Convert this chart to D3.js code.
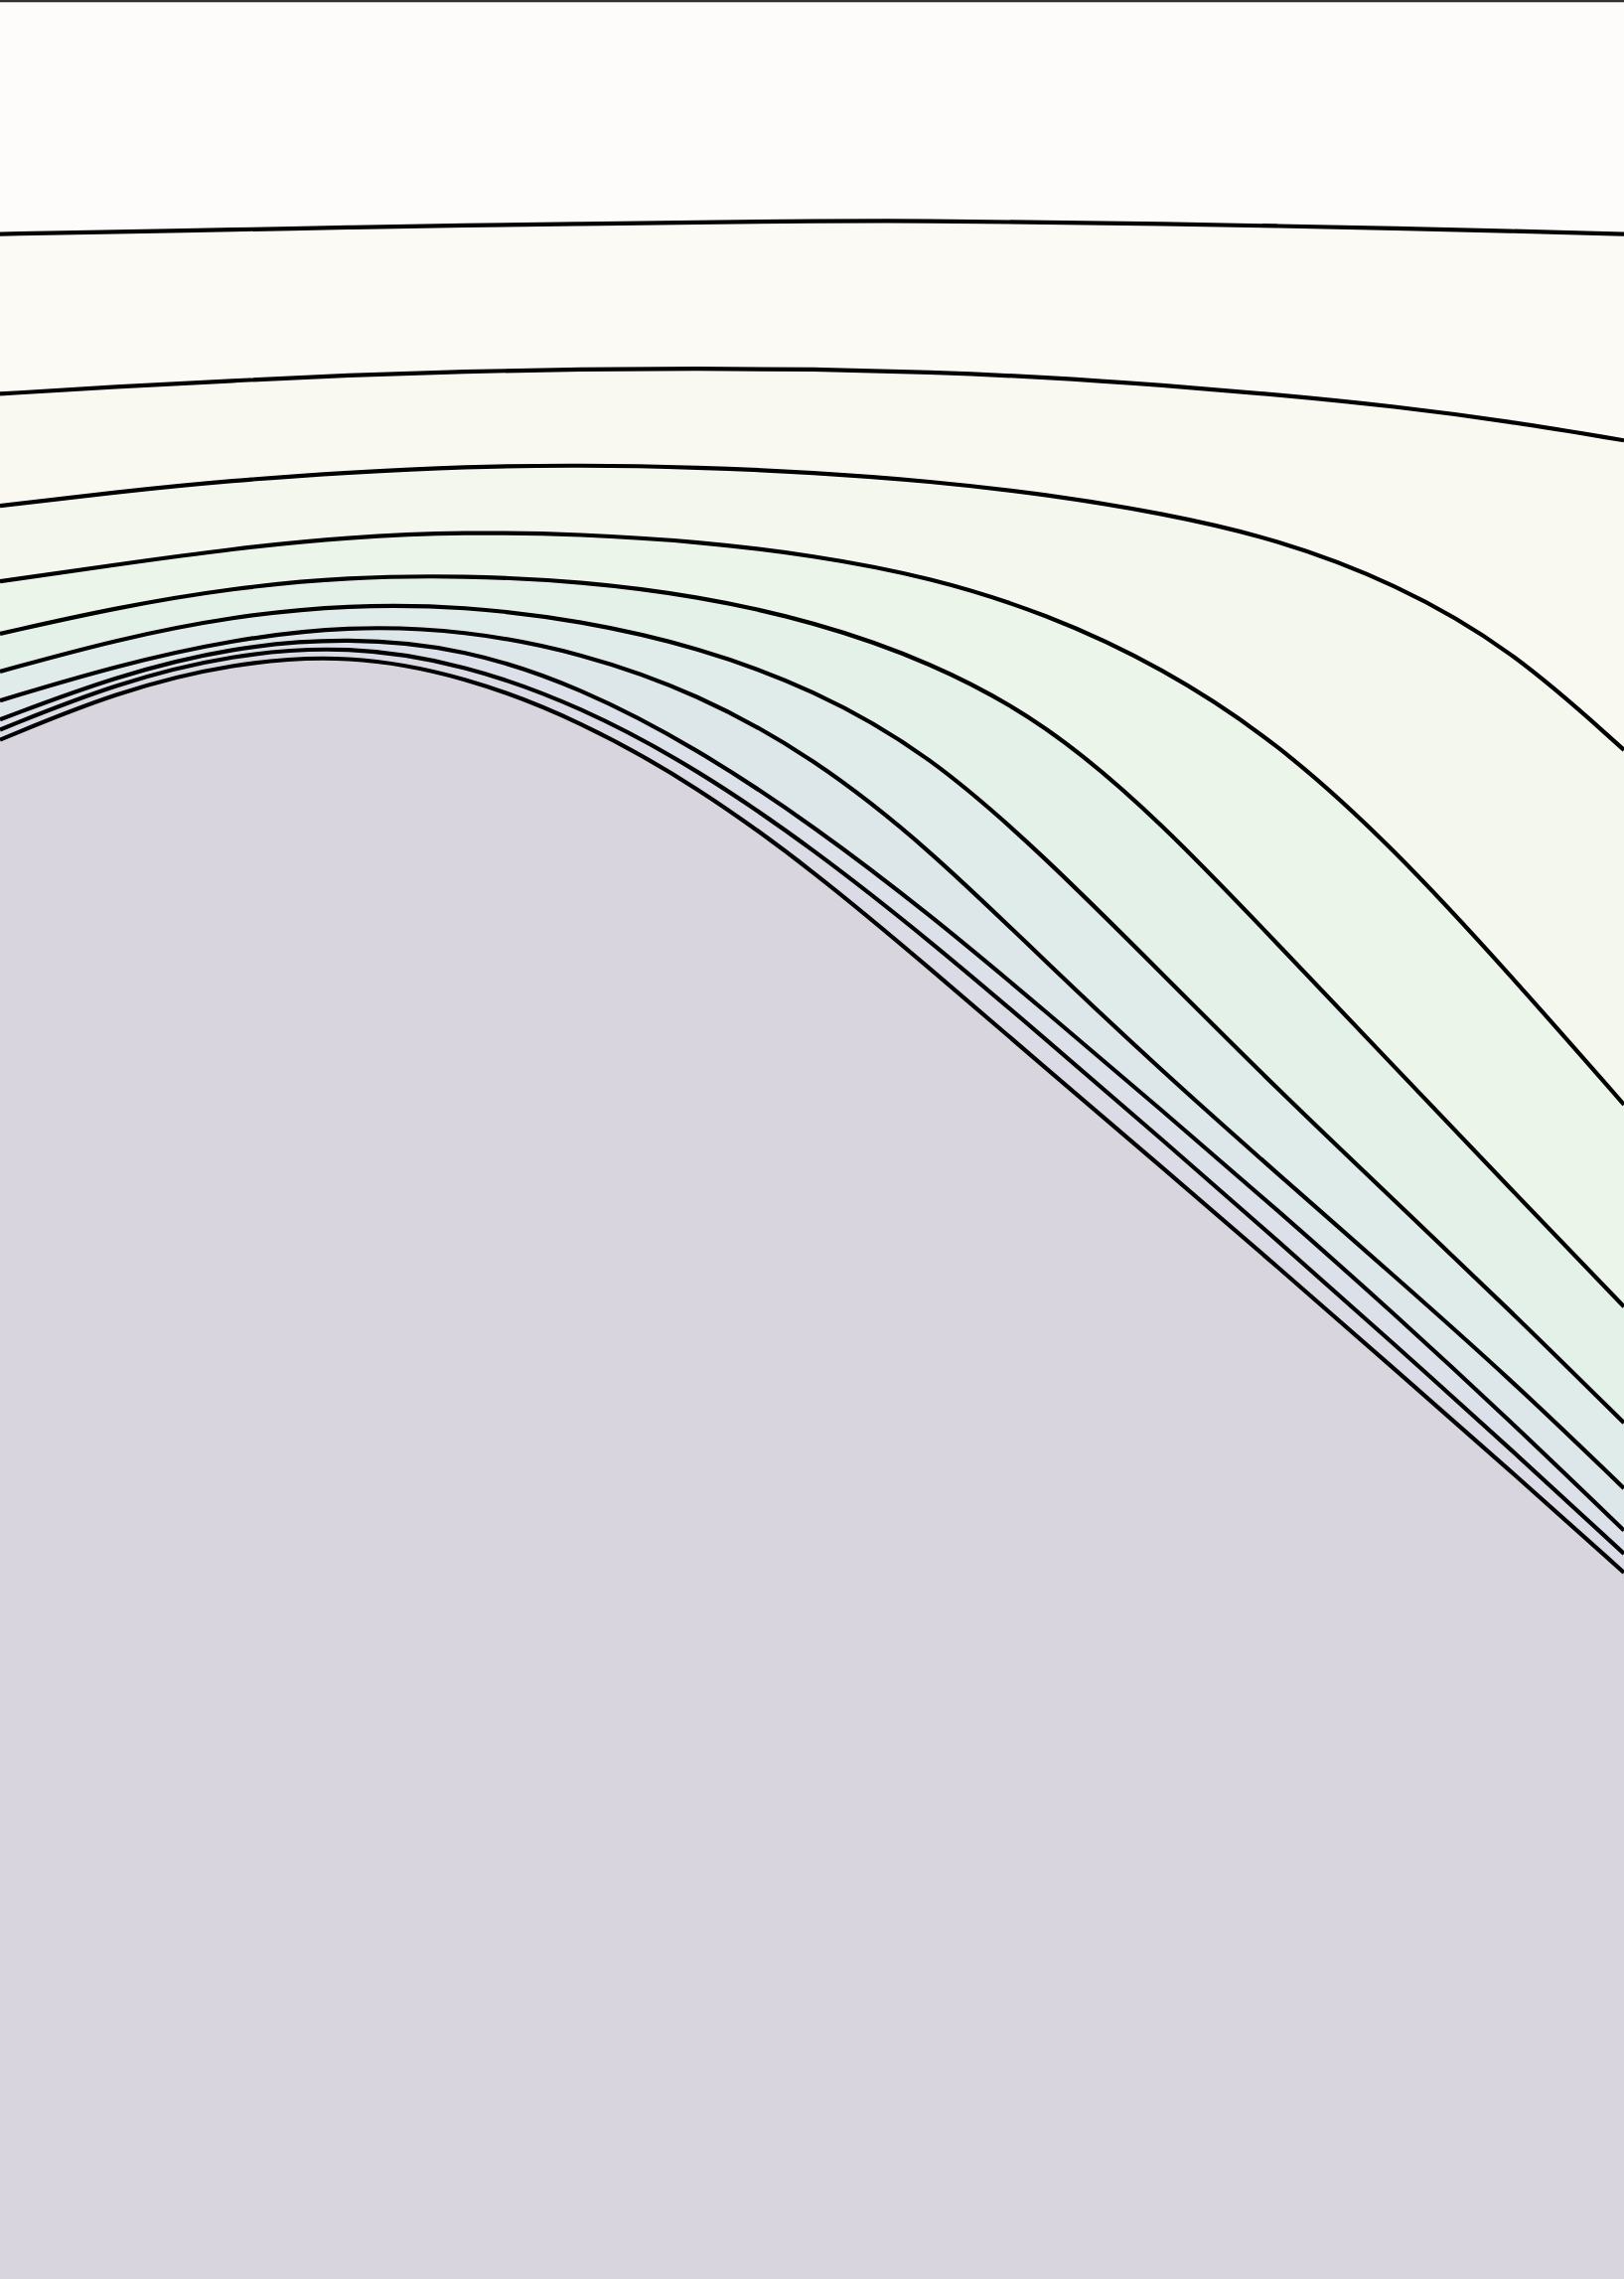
<!DOCTYPE html>
<html>
<head>
<meta charset="utf-8">
<script src="https://cdn.jsdelivr.net/npm/d3@7"></script>
<style>
  body { margin: 0; background: #fff; }
</style>
</head>
<body>
<div id="chartArea"></div>
<script>
// sample positions along x (data units) and the y of each contour level there
var xs = [0, 80, 160, 240, 320, 400, 480, 560, 640, 720, 800, 880, 960, 1040, 1118];

var level1  = [161, 159.5, 158, 156.5, 155, 154, 153, 152, 152, 153, 154, 155.5, 157, 159, 161];
var level2  = [271, 266, 262, 258, 255.5, 254, 253.5, 254, 256, 259.5, 265, 271.5, 279.5, 290, 303];
var level3  = [348, 338.5, 330.5, 325, 321, 320, 321.5, 325, 331, 340, 353, 371, 401, 446, 516];
var level4  = [400, 388.5, 377.5, 369.5, 366, 367.5, 372.5, 382, 397, 422, 459, 511, 584, 671, 760];
var level5  = [436, 418, 404.5, 397, 396, 400, 410, 427.5, 455, 497, 566, 650, 734, 818, 899];
var level6  = [462, 440, 424, 416, 417, 427, 445, 474, 519, 590, 670, 750, 826, 902, 979];
var level7  = [482, 458, 440, 430.5, 433.5, 449, 477, 521, 584, 662, 737, 808, 878, 949, 1024];
var level8  = [495, 465, 445, 438.5, 446, 473, 515, 568, 629, 696, 764, 833, 904, 978, 1053];
var level9  = [502, 470, 450, 444, 457, 486, 529, 584, 647, 715, 784, 854, 925, 997, 1069];
var level10 = [509, 476, 456, 450, 465, 496, 541, 599, 666, 735, 803, 872, 942, 1012, 1082];

var levels = [level1, level2, level3, level4, level5, level6, level7, level8, level9, level10];

// fill of each band, top band first
var bandColors = ["#fdfcfa", "#fcfaf5", "#f9f9f2", "#f3f7ee", "#ebf5ea", "#e4f1e8",
                  "#e0ece9", "#dde7ea", "#dce0e9", "#dadbe4", "#d8d5de"];

var width = 1635;
var height = 2294;

var svg = d3.select("#chartArea")
    .append("svg")
    .attr("width", width)
    .attr("height", height)
    .style("display", "block")

var x = d3.scaleLinear().domain([0, 1118]).range([0, width]);
var y = d3.scaleLinear().domain([0, 1568]).range([0, height]);

function toPoints(ys) {
  return ys.map(function(v, i) { return [xs[i], v]; });
}

var area = d3.area()
    .x(d => x(d[0]))
    .y0(y(1568))
    .y1(d => y(d[1]))
    .curve(d3.curveBasis)

var line = d3.line()
    .x(d => x(d[0]))
    .y(d => y(d[1]))
    .curve(d3.curveBasis)

// top band as background
svg.append("rect")
    .attr("width", width)
    .attr("height", height)
    .attr("fill", bandColors[0])

// each level fills everything below it, painted top to bottom
svg.selectAll(".band")
    .data(levels)
    .enter().append("path")
    .attr("class", "band")
    .attr("d", d => area(toPoints(d)))
    .attr("fill", (d, i) => bandColors[i + 1])

svg.selectAll(".contour")
    .data(levels)
    .enter().append("path")
    .attr("class", "contour")
    .attr("d", d => line(toPoints(d)))
    .attr("fill", "none")
    .attr("stroke", "#000")
    .attr("stroke-width", 4.2)

// top spine
svg.append("line")
    .attr("x1", 0)
    .attr("x2", width)
    .attr("y1", 1)
    .attr("y2", 1)
    .attr("stroke", "#333")
    .attr("stroke-width", 2.5)
</script>
</body>
</html>
